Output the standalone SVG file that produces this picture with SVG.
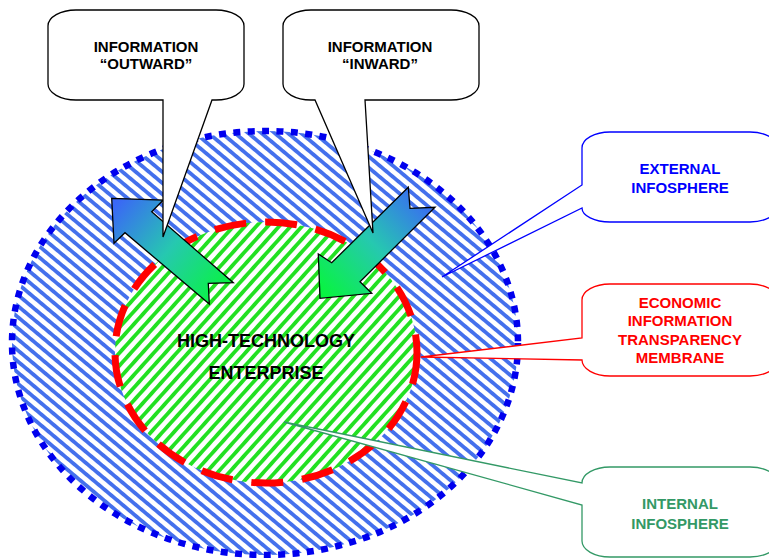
<svg xmlns="http://www.w3.org/2000/svg" width="769" height="558" viewBox="0 0 769 558">
<style>
.box{fill:#fff;stroke:#000;stroke-width:1.3;stroke-linejoin:miter}
.t{font-family:"Liberation Sans",Arial,sans-serif;font-weight:bold;font-size:15px;text-anchor:middle}
.big{font-size:18px}
.arrow{stroke:#000;stroke-width:1.3;stroke-linejoin:miter}
</style>
<defs>
<pattern id="hb" width="8.5" height="8.5" patternUnits="userSpaceOnUse" patternTransform="rotate(40)">
<rect width="8.5" height="8.5" fill="#fff"/>
<rect y="0" width="8.5" height="3.8" fill="#4470ec"/>
</pattern>
<pattern id="hg" width="8.5" height="8.5" patternUnits="userSpaceOnUse" patternTransform="rotate(-48)">
<rect width="8.5" height="8.5" fill="#fff"/>
<rect y="0" width="8.5" height="3.8" fill="#22e022"/>
</pattern>
<linearGradient id="gOut" gradientUnits="userSpaceOnUse" x1="115" y1="205" x2="222" y2="295">
<stop offset="0" stop-color="#3a68f5"/>
<stop offset="0.5" stop-color="#26c8b0"/>
<stop offset="1" stop-color="#08f440"/>
</linearGradient>
<linearGradient id="gIn" gradientUnits="userSpaceOnUse" x1="425" y1="195" x2="322" y2="292">
<stop offset="0" stop-color="#3a68f5"/>
<stop offset="0.5" stop-color="#26c8b0"/>
<stop offset="1" stop-color="#08f440"/>
</linearGradient>
</defs>

<g id="external-infosphere-area">
<ellipse cx="265" cy="343" rx="253" ry="212" fill="url(#hb)"/>
<ellipse cx="265" cy="343" rx="253" ry="212" fill="none" stroke="#0000ee" stroke-width="6.5" stroke-dasharray="7 7.4"/>
</g>

<g id="enterprise">
<ellipse cx="266" cy="352.5" rx="151" ry="130.5" fill="url(#hg)"/>
<ellipse cx="266" cy="352.5" rx="151" ry="130.5" fill="none" stroke="#ff0000" stroke-width="7" stroke-dasharray="32 19"/>
<text class="t big" x="266" y="347">HIGH-TECHNOLOGY</text>
<text class="t big" x="266" y="379">ENTERPRISE</text>
</g>

<g id="connectors">
<path class="arrow" fill="url(#gOut)" d="M111.7,198.3 L163.3,200 L151.7,211.7 L233.3,282.7 L208.3,283.3 L209.3,304 L125,232.7 L114,243.3 Z"/>
<path class="arrow" fill="url(#gIn)" d="M408.3,187.3 L410,208.3 L435,207.3 L360,281.7 L371.7,293.3 L320,298.3 L318.3,254 L331.7,262.7 Z"/>
</g>

<g id="callout-outward">
<path class="box" d="M76,10 H216 A28,16 0 0 1 244,26 V84 A28,16 0 0 1 216,100 H212 L163,237 V100 H76 A28,16 0 0 1 48,84 V26 A28,16 0 0 1 76,10 Z"/>
<text class="t" x="146" y="52">INFORMATION</text>
<text class="t" x="146" y="69">“OUTWARD”</text>
</g>

<g id="callout-inward">
<path class="box" d="M311,10 H451 A28,16 0 0 1 479,26 V84 A28,16 0 0 1 451,100 H365 L373,233 L315,100 H311 A28,16 0 0 1 283,84 V26 A28,16 0 0 1 311,10 Z"/>
<text class="t" x="380" y="52">INFORMATION</text>
<text class="t" x="380" y="69">“INWARD”</text>
</g>

<g id="callout-external">
<path class="box" style="stroke:#0000ff" d="M610,132 H750 A28,16 0 0 1 778,148 V206 A28,16 0 0 1 750,222 H610 A28,14 0 0 1 582,208 L442,277 L582,185 V148 A28,16 0 0 1 610,132 Z"/>
<text class="t" x="680" y="174" fill="#0000ff">EXTERNAL</text>
<text class="t" x="680" y="193" fill="#0000ff">INFOSPHERE</text>
</g>

<g id="callout-membrane">
<path class="box" style="stroke:#ff0000" d="M610,284 H750 A28,16 0 0 1 778,300 V360 A28,16 0 0 1 750,376 H610 A28,16 0 0 1 582,360 L421,357 L582,338 V300 A28,16 0 0 1 610,284 Z"/>
<text class="t" x="680" y="308" fill="#ff0000">ECONOMIC</text>
<text class="t" x="680" y="326" fill="#ff0000">INFORMATION</text>
<text class="t" x="680" y="345" fill="#ff0000">TRANSPARENCY</text>
<text class="t" x="680" y="363" fill="#ff0000">MEMBRANE</text>
</g>

<g id="callout-internal">
<path class="box" style="stroke:#339966" d="M610,467 H750 A28,16 0 0 1 778,483 V541 A28,16 0 0 1 750,557 H610 A28,16 0 0 1 582,541 V505 L284,422 L582,483 A28,16 0 0 1 610,467 Z"/>
<text class="t" x="680" y="509" fill="#339966">INTERNAL</text>
<text class="t" x="680" y="529" fill="#339966">INFOSPHERE</text>
</g>
</svg>
